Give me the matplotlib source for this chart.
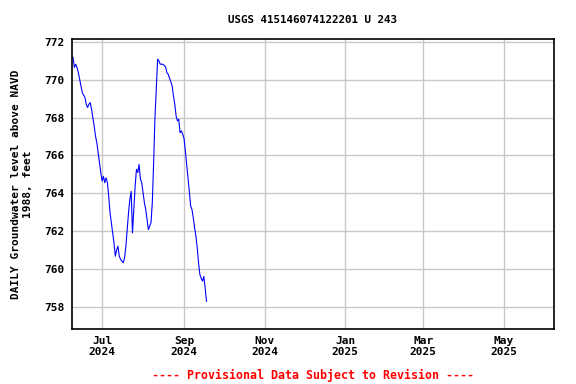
import numpy as np
import pandas as pd
import matplotlib
matplotlib.use("Agg")
import matplotlib.pyplot as plt
import matplotlib.dates as mdates

# daily groundwater level
dates = ["2024-06-08", "2024-06-09", "2024-06-10", "2024-06-11", "2024-06-12",
         "2024-06-13", "2024-06-14", "2024-06-15", "2024-06-16", "2024-06-18",
         "2024-06-19", "2024-06-20", "2024-06-21", "2024-06-22", "2024-06-23",
         "2024-06-24", "2024-06-25", "2024-06-26", "2024-06-27", "2024-06-28",
         "2024-06-29", "2024-06-30", "2024-07-01", "2024-07-02", "2024-07-03",
         "2024-07-04", "2024-07-05", "2024-07-06", "2024-07-07", "2024-07-08",
         "2024-07-09", "2024-07-10", "2024-07-11", "2024-07-12", "2024-07-13",
         "2024-07-14", "2024-07-15", "2024-07-16", "2024-07-17", "2024-07-18",
         "2024-07-19", "2024-07-20", "2024-07-21", "2024-07-22", "2024-07-23",
         "2024-07-24", "2024-07-25", "2024-07-26", "2024-07-27", "2024-07-28",
         "2024-07-29", "2024-07-30", "2024-07-31", "2024-08-01", "2024-08-02",
         "2024-08-03", "2024-08-04", "2024-08-05", "2024-08-06", "2024-08-07",
         "2024-08-08", "2024-08-09", "2024-08-10", "2024-08-11", "2024-08-12",
         "2024-08-13", "2024-08-14", "2024-08-16", "2024-08-18", "2024-08-19",
         "2024-08-20", "2024-08-21", "2024-08-22", "2024-08-23", "2024-08-24",
         "2024-08-25", "2024-08-26", "2024-08-27", "2024-08-28", "2024-08-29",
         "2024-08-30", "2024-08-31", "2024-09-01", "2024-09-02", "2024-09-03",
         "2024-09-04", "2024-09-05", "2024-09-06", "2024-09-07", "2024-09-08",
         "2024-09-09", "2024-09-10", "2024-09-11", "2024-09-12", "2024-09-13",
         "2024-09-14", "2024-09-15", "2024-09-16", "2024-09-17", "2024-09-18"]
levels = [771.25, 771.19, 770.66, 770.83, 770.66,
          770.39, 770.04, 769.68, 769.33, 769.07,
          768.71, 768.54, 768.71, 768.80, 768.45,
          768.00, 767.56, 767.03, 766.68, 766.15,
          765.62, 765.10, 764.65, 764.90, 764.56,
          764.82, 764.56, 763.85, 762.97, 762.44,
          761.90, 761.38, 760.67, 761.00, 761.20,
          760.67, 760.50, 760.40, 760.32, 760.58,
          761.20, 762.08, 762.97, 763.68, 764.10,
          761.90, 763.15, 764.38, 765.27, 765.10,
          765.53, 764.74, 764.56, 764.03, 763.50,
          763.15, 762.62, 762.08, 762.26, 762.44,
          763.50, 765.62, 768.00, 769.50, 771.10,
          771.00, 770.83, 770.83, 770.70, 770.39,
          770.30, 770.10, 769.90, 769.68, 769.15,
          768.71, 768.10, 767.83, 767.92, 767.21,
          767.30, 767.12, 766.90, 766.24, 765.53,
          764.82, 764.11, 763.32, 763.15, 762.70,
          762.17, 761.73, 761.11, 760.32, 759.70,
          759.50, 759.35, 759.60, 758.99, 758.28]

tick_dates = ["2024-07-01", "2024-09-01", "2024-11-01",
              "2025-01-01", "2025-03-01", "2025-05-01"]
tick_labels = ["Jul\n2024", "Sep\n2024", "Nov\n2024",
               "Jan\n2025", "Mar\n2025", "May\n2025"]
yticks = [758, 760, 762, 764, 766, 768, 770, 772]

title = "USGS 415146074122201 U 243"
ylabel = "DAILY Groundwater level above NAVD\n1988, feet"
footer = "---- Provisional Data Subject to Revision ----"

plt.rcParams['font.family'] = ['DejaVu Sans Mono']
plt.rcParams['font.weight'] = 'bold'

fig = plt.figure(figsize=(5.76, 3.84), dpi=100)
ax = fig.add_axes([0.1245, 0.1424, 0.8373, 0.7553])

x = pd.to_datetime(dates)
ax.plot(x, levels, color="#0000ff", lw=0.8)

ax.set_xlim(pd.Timestamp("2024-06-08"), pd.Timestamp("2025-06-08"))
ax.set_ylim(756.8, 772.15)
ax.set_xticks(pd.to_datetime(tick_dates))
ax.set_xticklabels(tick_labels, fontsize=8, fontweight='bold', linespacing=1.1)
ax.set_yticks(yticks)
ax.set_yticklabels([str(v) for v in yticks], fontsize=8, fontweight='bold')
ax.tick_params(length=0, pad=5)

ax.grid(True, color="#c8c8c8", lw=1)
ax.set_axisbelow(True)
for s in ax.spines.values():
    s.set_linewidth(1.2)
    s.set_color("black")

ax.set_ylabel(ylabel, fontsize=8, fontweight='bold', labelpad=8, linespacing=1.3)
fig.text(0.543, 0.948, title, ha="center", va="center", fontsize=7.8, fontweight='bold')
fig.text(0.543, 0.023, footer, ha="center", va="center", fontsize=8.4,
         fontweight='bold', color="red")

fig.savefig("out.png", dpi=100)
